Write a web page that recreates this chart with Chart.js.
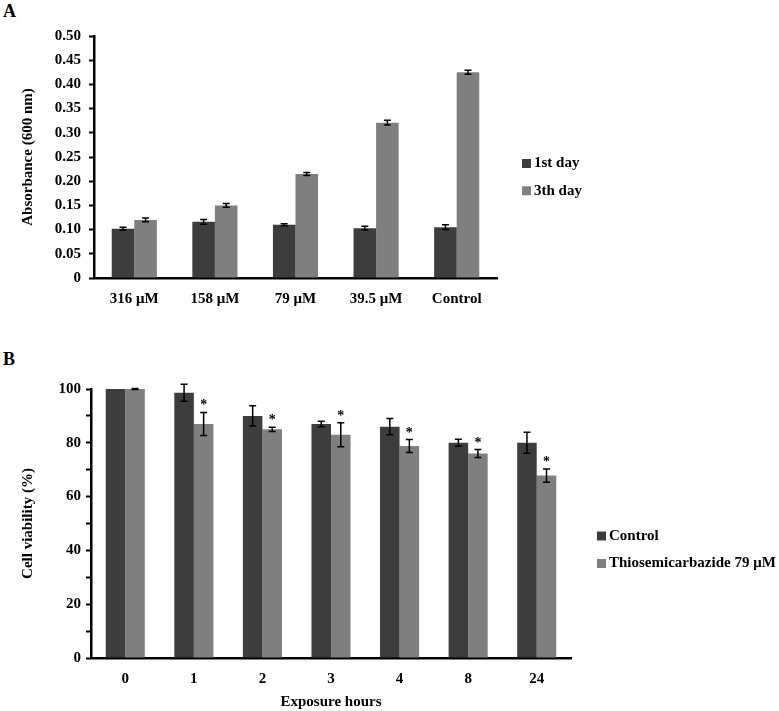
<!DOCTYPE html>
<html lang="en">
<head>
    <meta charset="UTF-8">
    <title>Absorbance and cell viability</title>
    <script src="https://cdn.jsdelivr.net/npm/chart.js"></script>
    <style>
        body {
            margin: 0;
            padding: 0;
            background: #fff;
            width: 779px;
            height: 711px;
            position: relative;
            overflow: hidden;
            font-family: 'Liberation Serif', 'Times New Roman', serif;
        }

        .panel-letter {
            position: absolute;
            left: 3px;
            font-size: 18px;
            font-weight: bold;
            line-height: 1;
            color: #000;
        }

        #graficoA {
            position: absolute;
            left: 0;
            top: 0;
        }

        #graficoB {
            position: absolute;
            left: 0;
            top: 340px;
        }
    </style>
</head>
<body>
    <div class="panel-letter" style="top: 2px;">A</div>
    <div class="panel-letter" style="top: 350px;">B</div>
    <canvas id="graficoA" width="779" height="330"></canvas>
    <canvas id="graficoB" width="779" height="371"></canvas>

    <script>
        // painel A - absorbancia
        var concentracoes = ['316 μM', '158 μM', '79 μM', '39.5 μM', 'Control'];
        var dia1 = [0.102, 0.116, 0.110, 0.103, 0.105];
        var dia1Erro = [0.003, 0.005, 0.002, 0.004, 0.005];
        var dia3 = [0.120, 0.150, 0.215, 0.321, 0.425];
        var dia3Erro = [0.004, 0.004, 0.003, 0.005, 0.004];

        // painel B - viabilidade
        var horas = ['0', '1', '2', '3', '4', '8', '24'];
        var controle = [100, 98.6, 90.0, 87.0, 86.0, 80.0, 80.0];
        var controleErro = [0, 3.2, 3.8, 1.0, 3.0, 1.3, 3.9];
        var tiosemi = [100, 87.0, 85.0, 83.0, 78.8, 76.0, 67.8];
        var tiosemiErro = [0.2, 4.3, 0.8, 4.5, 2.4, 1.5, 2.5];
        var tiosemiSignif = [false, true, true, true, true, true, true];

        var corEscura = '#3d3d3d';
        var corClara = '#7f7f7f';
        var fonte = 'bold 15px "Liberation Serif"';

        Chart.defaults.font.family = '"Liberation Serif", "Times New Roman", serif';
        Chart.defaults.font.size = 15;
        Chart.defaults.font.weight = 'bold';
        Chart.defaults.color = '#000';

        var barrasErro = {
            id: 'barrasErro',
            afterDatasetsDraw: function(chart) {
                var ctx = chart.ctx;
                var escalaY = chart.scales.y;
                chart.data.datasets.forEach(function(ds, i) {
                    var meta = chart.getDatasetMeta(i);
                    meta.data.forEach(function(barra, j) {
                        var e = ds.erros ? ds.erros[j] : 0;
                        var topo = escalaY.getPixelForValue(ds.data[j] + e);
                        if (e) {
                            var base = escalaY.getPixelForValue(ds.data[j] - e);
                            ctx.save();
                            ctx.strokeStyle = '#000';
                            ctx.lineWidth = 1.5;
                            ctx.beginPath();
                            ctx.moveTo(barra.x, topo);
                            ctx.lineTo(barra.x, base);
                            ctx.moveTo(barra.x - 3.5, topo);
                            ctx.lineTo(barra.x + 3.5, topo);
                            ctx.moveTo(barra.x - 3.5, base);
                            ctx.lineTo(barra.x + 3.5, base);
                            ctx.stroke();
                            ctx.restore();
                        }
                        if (ds.signif && ds.signif[j]) {
                            ctx.save();
                            ctx.fillStyle = '#000';
                            ctx.font = 'bold 14px "Liberation Serif"';
                            ctx.textAlign = 'center';
                            ctx.textBaseline = 'alphabetic';
                            ctx.fillText('*', barra.x, topo - 3);
                            ctx.restore();
                        }
                    });
                });
            }
        };

        var legendaLateral = {
            id: 'legendaLateral',
            afterDraw: function(chart, args, opts) {
                var ctx = chart.ctx;
                var x = chart.chartArea.right + opts.dx;
                ctx.save();
                chart.data.datasets.forEach(function(ds, i) {
                    var y = opts.y + i * opts.espaco;
                    ctx.fillStyle = ds.backgroundColor;
                    ctx.fillRect(x, y - 4.5, 9, 9);
                    ctx.fillStyle = '#000';
                    ctx.font = fonte;
                    ctx.textAlign = 'left';
                    ctx.textBaseline = 'middle';
                    ctx.fillText(ds.label, x + 12, y);
                });
                ctx.restore();
            }
        };

        function eixoY(largura, titulo, padTicks) {
            return {
                afterFit: function(scale) { scale.width = largura; },
                border: { display: true, color: '#000', width: 2.5 },
                grid: {
                    display: true,
                    drawOnChartArea: false,
                    drawTicks: true,
                    tickLength: 5,
                    tickColor: '#000',
                    tickWidth: 2
                },
                title: {
                    display: true,
                    text: titulo,
                    font: { size: 15, weight: 'bold' },
                    padding: { top: 19, bottom: 0 }
                },
                ticks: { padding: padTicks }
            };
        }

        // grafico A
        var opcoesYA = eixoY(94, 'Absorbance (600 nm)', 8);
        opcoesYA.min = 0;
        opcoesYA.max = 0.5;
        opcoesYA.ticks.stepSize = 0.05;
        opcoesYA.ticks.callback = function(v) { return v === 0 ? '0' : v.toFixed(2); };

        new Chart(document.getElementById('graficoA').getContext('2d'), {
            type: 'bar',
            data: {
                labels: concentracoes,
                datasets: [{
                    label: '1st day',
                    data: dia1,
                    erros: dia1Erro,
                    backgroundColor: corEscura,
                    categoryPercentage: 0.56,
                    barPercentage: 1.0
                }, {
                    label: '3th day',
                    data: dia3,
                    erros: dia3Erro,
                    backgroundColor: corClara,
                    categoryPercentage: 0.56,
                    barPercentage: 1.0
                }]
            },
            options: {
                responsive: false,
                animation: false,
                layout: { padding: { top: 36, right: 282, bottom: 0, left: 0 } },
                plugins: {
                    legend: { display: false },
                    tooltip: { enabled: false },
                    legendaLateral: { dx: 25, y: 163.5, espaco: 27.3 }
                },
                scales: {
                    x: {
                        afterFit: function(scale) { scale.height = 52; },
                        border: { display: true, color: '#000', width: 2.5 },
                        grid: { display: false },
                        ticks: { padding: 4, maxRotation: 0 }
                    },
                    y: opcoesYA
                }
            },
            plugins: [barrasErro, legendaLateral]
        });

        // grafico B
        var opcoesYB = eixoY(91, 'Cell viability (%)', 5);
        opcoesYB.min = 0;
        opcoesYB.max = 100;
        opcoesYB.ticks.stepSize = 10;
        opcoesYB.ticks.autoSkip = false;
        opcoesYB.ticks.callback = function(v) { return v % 20 === 0 ? String(v) : ''; };

        new Chart(document.getElementById('graficoB').getContext('2d'), {
            type: 'bar',
            data: {
                labels: horas,
                datasets: [{
                    label: 'Control',
                    data: controle,
                    erros: controleErro,
                    backgroundColor: corEscura,
                    categoryPercentage: 0.57,
                    barPercentage: 1.0
                }, {
                    label: 'Thiosemicarbazide 79 μM',
                    data: tiosemi,
                    erros: tiosemiErro,
                    signif: tiosemiSignif,
                    backgroundColor: corClara,
                    categoryPercentage: 0.57,
                    barPercentage: 1.0
                }]
            },
            options: {
                responsive: false,
                animation: false,
                layout: { padding: { top: 49, right: 208, bottom: 0, left: 0 } },
                plugins: {
                    legend: { display: false },
                    tooltip: { enabled: false },
                    legendaLateral: { dx: 26, y: 196, espaco: 27.5 }
                },
                scales: {
                    x: {
                        afterFit: function(scale) { scale.height = 53; },
                        border: { display: true, color: '#000', width: 2.5 },
                        grid: { display: false },
                        ticks: { padding: 4, maxRotation: 0 },
                        title: {
                            display: true,
                            text: 'Exposure hours',
                            font: { size: 15, weight: 'bold' },
                            padding: { top: -2, bottom: 0 }
                        }
                    },
                    y: opcoesYB
                }
            },
            plugins: [barrasErro, legendaLateral]
        });
    </script>
</body>
</html>
